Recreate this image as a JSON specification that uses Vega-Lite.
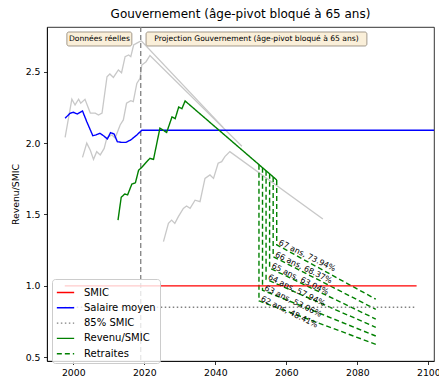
{
  "$schema": "https://vega.github.io/schema/vega-lite/v6.json",
  "width": 387,
  "height": 334,
  "autosize": {"type": "none"},
  "padding": {"left": 47, "top": 27, "right": 5, "bottom": 15},
  "title": {"text": "Gouvernement (âge-pivot bloqué à 65 ans)", "fontSize": 12, "fontWeight": "normal", "font": "DejaVu Sans", "color": "black", "anchor": "middle", "offset": 5},
  "config": {
    "font": "DejaVu Sans",
    "view": {"stroke": "black", "strokeWidth": 0.8},
    "axis": {"grid": false, "domainColor": "black", "domainWidth": 0.8, "tickColor": "black", "tickWidth": 0.8, "tickSize": 3.5, "labelFontSize": 9.3, "labelColor": "black", "labelPadding": 3.5, "titleFontSize": 9.3, "titleFontWeight": "normal", "titleColor": "black", "labelFont": "DejaVu Sans", "titleFont": "DejaVu Sans"},
    "legend": {"orient": "none", "legendX": 5, "legendY": 252, "fillColor": "rgba(255,255,255,0.8)", "strokeColor": "#cccccc", "cornerRadius": 3, "padding": 4, "labelFontSize": 10, "labelColor": "black", "labelFont": "DejaVu Sans", "symbolType": "stroke", "symbolSize": 300, "symbolStrokeWidth": 1.4, "labelOffset": 9, "rowPadding": 0.3}
  },
  "datasets": {
    "gray": [
      {"id": "g1", "year": 1997.7, "v": 2.04}, {"id": "g1", "year": 1999.6, "v": 2.307}, {"id": "g1", "year": 2000.5, "v": 2.267}, {"id": "g1", "year": 2001.5, "v": 2.307}, {"id": "g1", "year": 2002.1, "v": 2.28}, {"id": "g1", "year": 2003.3, "v": 2.307}, {"id": "g1", "year": 2004.8, "v": 2.21}, {"id": "g1", "year": 2006.2, "v": 2.21}, {"id": "g1", "year": 2007.1, "v": 2.197}, {"id": "g1", "year": 2008.1, "v": 2.21}, {"id": "g1", "year": 2009.5, "v": 2.465}, {"id": "g1", "year": 2010.3, "v": 2.484}, {"id": "g1", "year": 2011.3, "v": 2.46}, {"id": "g1", "year": 2012.7, "v": 2.512}, {"id": "g1", "year": 2013.6, "v": 2.493}, {"id": "g1", "year": 2014.6, "v": 2.605}, {"id": "g1", "year": 2015.6, "v": 2.617}, {"id": "g1", "year": 2016.2, "v": 2.605}, {"id": "g1", "year": 2017.0, "v": 2.687}, {"id": "g1", "year": 2017.9, "v": 2.7}, {"id": "g1", "year": 2018.7, "v": 2.71}, {"id": "g1", "year": 2019.2, "v": 2.715}, {"id": "g1", "year": 2042.2, "v": 2.11},
      {"id": "g2", "year": 2002.6, "v": 1.9}, {"id": "g2", "year": 2003.8, "v": 2.0}, {"id": "g2", "year": 2004.8, "v": 1.95}, {"id": "g2", "year": 2005.7, "v": 1.886}, {"id": "g2", "year": 2006.6, "v": 1.94}, {"id": "g2", "year": 2007.6, "v": 1.917}, {"id": "g2", "year": 2008.7, "v": 1.963}, {"id": "g2", "year": 2009.5, "v": 2.04}, {"id": "g2", "year": 2010.9, "v": 2.057}, {"id": "g2", "year": 2011.8, "v": 2.035}, {"id": "g2", "year": 2013.2, "v": 2.127}, {"id": "g2", "year": 2014.1, "v": 2.162}, {"id": "g2", "year": 2015.0, "v": 2.279}, {"id": "g2", "year": 2016.2, "v": 2.297}, {"id": "g2", "year": 2016.9, "v": 2.29}, {"id": "g2", "year": 2017.9, "v": 2.418}, {"id": "g2", "year": 2018.8, "v": 2.454}, {"id": "g2", "year": 2019.3, "v": 2.547}, {"id": "g2", "year": 2020.5, "v": 2.57}, {"id": "g2", "year": 2021.6, "v": 2.614}, {"id": "g2", "year": 2047.5, "v": 1.978},
      {"id": "g3", "year": 2025.4, "v": 1.31}, {"id": "g3", "year": 2026.8, "v": 1.438}, {"id": "g3", "year": 2027.7, "v": 1.461}, {"id": "g3", "year": 2028.6, "v": 1.438}, {"id": "g3", "year": 2029.6, "v": 1.485}, {"id": "g3", "year": 2031.0, "v": 1.543}, {"id": "g3", "year": 2031.9, "v": 1.559}, {"id": "g3", "year": 2032.9, "v": 1.543}, {"id": "g3", "year": 2034.3, "v": 1.6}, {"id": "g3", "year": 2035.7, "v": 1.59}, {"id": "g3", "year": 2037.1, "v": 1.753}, {"id": "g3", "year": 2038.5, "v": 1.777}, {"id": "g3", "year": 2039.5, "v": 1.753}, {"id": "g3", "year": 2040.8, "v": 1.859}, {"id": "g3", "year": 2041.8, "v": 1.87}, {"id": "g3", "year": 2042.7, "v": 1.905}, {"id": "g3", "year": 2044.1, "v": 1.94}, {"id": "g3", "year": 2070.3, "v": 1.468}
    ],
    "main": [
      {"series": "Retraites", "grp": "r62", "o": 1, "year": 2052.3, "v": 1.849}, {"series": "Retraites", "grp": "r62", "o": 2, "year": 2052.3, "v": 0.895}, {"series": "Retraites", "grp": "r62", "o": 3, "year": 2085.2, "v": 0.591},
      {"series": "Retraites", "grp": "r63", "o": 1, "year": 2053.3, "v": 1.828}, {"series": "Retraites", "grp": "r63", "o": 2, "year": 2053.3, "v": 0.97}, {"series": "Retraites", "grp": "r63", "o": 3, "year": 2085.2, "v": 0.649},
      {"series": "Retraites", "grp": "r64", "o": 1, "year": 2054.3, "v": 1.806}, {"series": "Retraites", "grp": "r64", "o": 2, "year": 2054.3, "v": 1.046}, {"series": "Retraites", "grp": "r64", "o": 3, "year": 2085.2, "v": 0.71},
      {"series": "Retraites", "grp": "r65", "o": 1, "year": 2055.3, "v": 1.785}, {"series": "Retraites", "grp": "r65", "o": 2, "year": 2055.3, "v": 1.125}, {"series": "Retraites", "grp": "r65", "o": 3, "year": 2085.2, "v": 0.768},
      {"series": "Retraites", "grp": "r66", "o": 1, "year": 2056.3, "v": 1.763}, {"series": "Retraites", "grp": "r66", "o": 2, "year": 2056.3, "v": 1.205}, {"series": "Retraites", "grp": "r66", "o": 3, "year": 2085.2, "v": 0.836},
      {"series": "Retraites", "grp": "r67", "o": 1, "year": 2057.3, "v": 1.742}, {"series": "Retraites", "grp": "r67", "o": 2, "year": 2057.3, "v": 1.288}, {"series": "Retraites", "grp": "r67", "o": 3, "year": 2085.2, "v": 0.907},
      {"series": "85% SMIC", "grp": "p85", "o": 1, "year": 1997.6, "v": 0.85}, {"series": "85% SMIC", "grp": "p85", "o": 2, "year": 2096.7, "v": 0.85},
      {"series": "SMIC", "grp": "smic", "o": 1, "year": 1997.6, "v": 1.0}, {"series": "SMIC", "grp": "smic", "o": 2, "year": 2096.7, "v": 1.0},
      {"series": "Salaire moyen", "grp": "sal", "o": 1, "year": 1997.7, "v": 2.174}, {"series": "Salaire moyen", "grp": "sal", "o": 2, "year": 1999.1, "v": 2.209}, {"series": "Salaire moyen", "grp": "sal", "o": 3, "year": 2000.0, "v": 2.216}, {"series": "Salaire moyen", "grp": "sal", "o": 4, "year": 2001.1, "v": 2.204}, {"series": "Salaire moyen", "grp": "sal", "o": 5, "year": 2002.6, "v": 2.225}, {"series": "Salaire moyen", "grp": "sal", "o": 6, "year": 2003.8, "v": 2.15}, {"series": "Salaire moyen", "grp": "sal", "o": 7, "year": 2005.5, "v": 2.052}, {"series": "Salaire moyen", "grp": "sal", "o": 8, "year": 2006.4, "v": 2.057}, {"series": "Salaire moyen", "grp": "sal", "o": 9, "year": 2007.5, "v": 2.069}, {"series": "Salaire moyen", "grp": "sal", "o": 10, "year": 2008.6, "v": 2.05}, {"series": "Salaire moyen", "grp": "sal", "o": 11, "year": 2009.6, "v": 2.029}, {"series": "Salaire moyen", "grp": "sal", "o": 12, "year": 2010.5, "v": 2.073}, {"series": "Salaire moyen", "grp": "sal", "o": 13, "year": 2011.5, "v": 2.064}, {"series": "Salaire moyen", "grp": "sal", "o": 14, "year": 2012.4, "v": 2.01}, {"series": "Salaire moyen", "grp": "sal", "o": 15, "year": 2013.6, "v": 2.005}, {"series": "Salaire moyen", "grp": "sal", "o": 16, "year": 2014.8, "v": 2.005}, {"series": "Salaire moyen", "grp": "sal", "o": 17, "year": 2016.2, "v": 2.022}, {"series": "Salaire moyen", "grp": "sal", "o": 18, "year": 2017.9, "v": 2.057}, {"series": "Salaire moyen", "grp": "sal", "o": 19, "year": 2019.3, "v": 2.09}, {"series": "Salaire moyen", "grp": "sal", "o": 20, "year": 2101.6, "v": 2.09},
      {"series": "Revenu/SMIC", "grp": "rev", "o": 1, "year": 2012.6, "v": 1.461}, {"series": "Revenu/SMIC", "grp": "rev", "o": 2, "year": 2013.5, "v": 1.62}, {"series": "Revenu/SMIC", "grp": "rev", "o": 3, "year": 2014.5, "v": 1.644}, {"series": "Revenu/SMIC", "grp": "rev", "o": 4, "year": 2015.3, "v": 1.637}, {"series": "Revenu/SMIC", "grp": "rev", "o": 5, "year": 2016.5, "v": 1.713}, {"series": "Revenu/SMIC", "grp": "rev", "o": 6, "year": 2017.5, "v": 1.722}, {"series": "Revenu/SMIC", "grp": "rev", "o": 7, "year": 2018.4, "v": 1.81}, {"series": "Revenu/SMIC", "grp": "rev", "o": 8, "year": 2019.3, "v": 1.83}, {"series": "Revenu/SMIC", "grp": "rev", "o": 9, "year": 2020.7, "v": 1.87}, {"series": "Revenu/SMIC", "grp": "rev", "o": 10, "year": 2021.6, "v": 1.893}, {"series": "Revenu/SMIC", "grp": "rev", "o": 11, "year": 2022.6, "v": 1.886}, {"series": "Revenu/SMIC", "grp": "rev", "o": 12, "year": 2024.4, "v": 2.104}, {"series": "Revenu/SMIC", "grp": "rev", "o": 13, "year": 2026.3, "v": 2.075}, {"series": "Revenu/SMIC", "grp": "rev", "o": 14, "year": 2027.8, "v": 2.183}, {"series": "Revenu/SMIC", "grp": "rev", "o": 15, "year": 2028.7, "v": 2.171}, {"series": "Revenu/SMIC", "grp": "rev", "o": 16, "year": 2029.7, "v": 2.253}, {"series": "Revenu/SMIC", "grp": "rev", "o": 17, "year": 2030.6, "v": 2.241}, {"series": "Revenu/SMIC", "grp": "rev", "o": 18, "year": 2031.5, "v": 2.295}, {"series": "Revenu/SMIC", "grp": "rev", "o": 19, "year": 2057.3, "v": 1.742}
    ],
    "labels": [
      {"year": 2052.3, "v": 0.895, "label": "62 ans, 48.41%"},
      {"year": 2053.3, "v": 0.97, "label": "63 ans, 53.06%"},
      {"year": 2054.3, "v": 1.046, "label": "64 ans, 57.94%"},
      {"year": 2055.3, "v": 1.125, "label": "65 ans, 63.04%"},
      {"year": 2056.3, "v": 1.205, "label": "66 ans, 68.37%"},
      {"year": 2057.3, "v": 1.288, "label": "67 ans, 73.94%"}
    ]
  },
  "layer": [
    {
      "data": {"name": "gray"},
      "mark": {"type": "line", "color": "#c8c8c8", "strokeWidth": 1.3},
      "encoding": {
        "x": {"field": "year", "type": "quantitative", "scale": {"domain": [1992.6, 2101.6], "nice": false, "zero": false}, "axis": {"values": [2000, 2020, 2040, 2060, 2080, 2100], "format": "d", "title": null}},
        "y": {"field": "v", "type": "quantitative", "scale": {"domain": [0.474, 2.813], "nice": false, "zero": false}, "axis": {"values": [0.5, 1.0, 1.5, 2.0, 2.5], "format": ".1f", "title": "Revenu/SMIC", "titlePadding": 5}},
        "detail": {"field": "id"}
      }
    },
    {
      "data": {"values": [{}]},
      "mark": {"type": "rule", "color": "#808080", "strokeWidth": 1.3, "strokeDash": [5, 3]},
      "encoding": {"x": {"datum": 2019}}
    },
    {
      "data": {"name": "main"},
      "mark": {"type": "line", "strokeWidth": 1.4},
      "encoding": {
        "x": {"field": "year", "type": "quantitative"},
        "y": {"field": "v", "type": "quantitative"},
        "detail": {"field": "grp"},
        "order": {"field": "o", "type": "quantitative"},
        "color": {"field": "series", "type": "nominal", "title": null, "scale": {"domain": ["SMIC", "Salaire moyen", "85% SMIC", "Revenu/SMIC", "Retraites"], "range": ["#ff0000", "#0000ff", "#808080", "#008000", "#008000"]}},
        "strokeDash": {"field": "series", "type": "nominal", "title": null, "scale": {"domain": ["SMIC", "Salaire moyen", "85% SMIC", "Revenu/SMIC", "Retraites"], "range": [[1, 0], [1, 0], [1.5, 2.5], [1, 0], [5, 3]]}}
      }
    },
    {
      "data": {"name": "labels"},
      "mark": {"type": "text", "angle": 26, "align": "left", "baseline": "top", "dy": -7, "dx": 1, "fontSize": 8, "color": "black"},
      "encoding": {
        "x": {"field": "year", "type": "quantitative"},
        "y": {"field": "v", "type": "quantitative"},
        "text": {"field": "label"}
      }
    },
    {
      "data": {"values": [{}]},
      "mark": {"type": "rect", "fill": "#faefd9", "stroke": "#8c8274", "strokeWidth": 0.8, "cornerRadius": 2},
      "encoding": {"x": {"datum": 1998.2}, "x2": {"datum": 2016.5}, "y": {"datum": 2.778}, "y2": {"datum": 2.68}}
    },
    {
      "data": {"values": [{}]},
      "mark": {"type": "rect", "fill": "#faefd9", "stroke": "#8c8274", "strokeWidth": 0.8, "cornerRadius": 2},
      "encoding": {"x": {"datum": 2020.5}, "x2": {"datum": 2082.7}, "y": {"datum": 2.778}, "y2": {"datum": 2.68}}
    },
    {
      "data": {"values": [{"t": "Données réelles", "xc": 2007.35}, {"t": "Projection Gouvernement (âge-pivot bloqué à 65 ans)", "xc": 2051.6}]},
      "mark": {"type": "text", "fontSize": 7.6, "color": "black", "align": "center", "baseline": "middle"},
      "encoding": {"x": {"field": "xc", "type": "quantitative"}, "y": {"datum": 2.729}, "text": {"field": "t"}}
    }
  ]
}
